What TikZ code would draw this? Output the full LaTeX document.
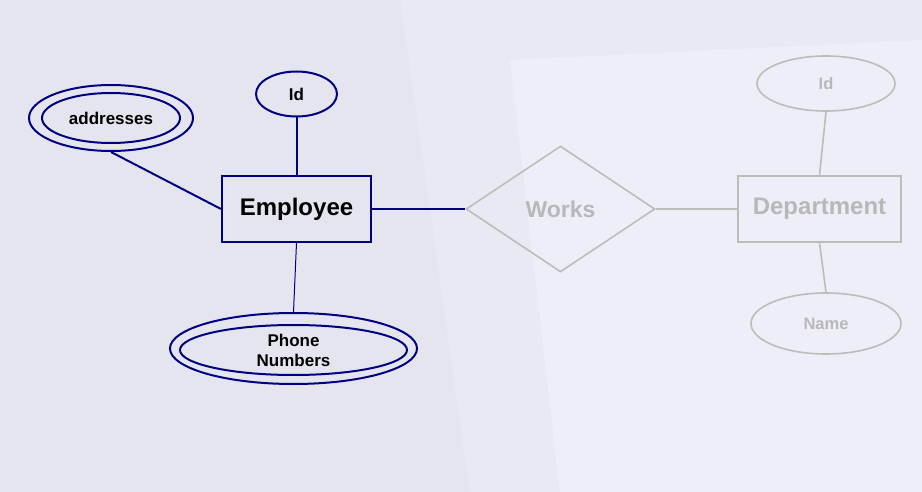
\documentclass[tikz,border=0pt]{standalone}
\usepackage{fontspec}
\setmainfont{Liberation Sans}
\usetikzlibrary{shapes.geometric}
\definecolor{navy}{RGB}{0,0,128}
\definecolor{fade}{RGB}{188,188,184}
\definecolor{fadetext}{RGB}{184,184,184}
\definecolor{bgbase}{RGB}{233,233,244}
\definecolor{bglight}{RGB}{238,238,249}
\definecolor{bgdark}{RGB}{229,229,239}
\tikzset{
  attr/.style={ellipse, draw=navy, line width=2pt, inner sep=0pt, font=\bfseries\fontsize{17}{20}\selectfont},
  ent/.style={rectangle, draw=navy, line width=2pt, inner sep=0pt, font=\bfseries\fontsize{24}{28}\selectfont},
  fattr/.style={ellipse, draw=fade, line width=1.6pt, inner sep=0pt, text=fadetext, font=\bfseries\fontsize{16.5}{20}\selectfont},
  fent/.style={rectangle, draw=fade, line width=1.6pt, inner sep=0pt, text=fadetext, font=\bfseries\fontsize{24}{28}\selectfont},
  link/.style={draw=navy, line width=2pt},
  flink/.style={draw=fade, line width=1.6pt}
}
\begin{document}
\begin{tikzpicture}[x=1pt,y=-1pt]
\useasboundingbox (0,0) rectangle (922,492);
% background approximation
\fill[bgbase] (0,0) rectangle (922,492);
\fill[bgdark] (0,0) -- (400,0) -- (470,492) -- (0,492) -- cycle;
\fill[bglight] (510,60) -- (922,40) -- (922,492) -- (560,492) -- cycle;
% employee side
\node[ent, minimum width=149pt, minimum height=66pt] (emp) at (296.5,209) {\raisebox{-2pt}{Employee}};
\node[attr, minimum width=81pt, minimum height=45pt] (id) at (296.5,94) {Id};
\node[attr, minimum width=164pt, minimum height=66pt] (addrout) at (111,118) {};
\node[attr, minimum width=138pt, minimum height=50pt] (addr) at (111,118) {addresses};
\node[attr, minimum width=247pt, minimum height=71pt] (phout) at (293.5,348.5) {};
\node[attr, minimum width=227pt, minimum height=50pt, align=center] (ph) at (293.5,350) {Phone\\Numbers};
% faded side
\node[diamond, draw=fade, line width=1.6pt, inner sep=0pt, minimum width=189pt, minimum height=126pt, aspect=1.5, text=fadetext, font=\bfseries\fontsize{23}{28}\selectfont] (works) at (560.5,209) {\raisebox{-2pt}{Works}};
\node[fent, minimum width=163pt, minimum height=66pt] (dept) at (819.5,209) {\raisebox{-2pt}{Department}};
\node[fattr, minimum width=138pt, minimum height=55pt] (did) at (826,83.5) {Id};
\node[fattr, minimum width=150pt, minimum height=61pt] (dname) at (826,323.5) {Name};
% connectors
\draw[link] (id.south) -- (emp.north);
\draw[link] (addrout.south) -- (emp.west);
\draw[draw=navy, line width=1pt] (emp.south) -- (phout.north);
\draw[link] (emp.east) -- (works.west);
\draw[flink] (works.east) -- (dept.west);
\draw[flink] (did.south) -- (dept.north);
\draw[flink] (dept.south) -- (dname.north);
\end{tikzpicture}
\end{document}
